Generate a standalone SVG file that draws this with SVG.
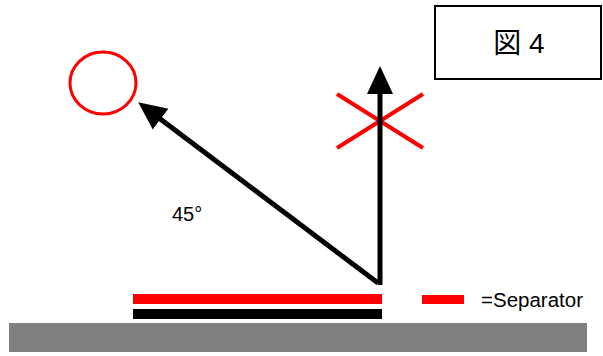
<svg xmlns="http://www.w3.org/2000/svg" width="603" height="356" viewBox="0 0 603 356">
  <style>
    .lbl { font-family: "Liberation Sans", "Noto Sans CJK JP", sans-serif; fill: #000; }
    .arrow { stroke: #000; stroke-width: 5; fill: none; }
    .red { stroke: #f00; stroke-width: 3; fill: none; }
    .cross { stroke: #f00; stroke-width: 4; fill: none; }
  </style>
  <defs>
    <marker id="ah" markerUnits="userSpaceOnUse" markerWidth="28" markerHeight="28" viewBox="0 0 28 26" refX="2" refY="13" orient="auto">
      <path d="M0,0 L28,13 L0,26 Z" fill="#000"/>
    </marker>
  </defs>
  <rect x="0" y="0" width="603" height="356" fill="#fff"/>

  <g id="title">
    <rect x="435" y="6" width="166" height="73" fill="#fff" stroke="#000" stroke-width="2"/>
    <text class="lbl" x="519" y="53" font-size="28" text-anchor="middle">図 4</text>
  </g>

  <g id="ok-circle">
    <ellipse cx="103" cy="83" rx="33" ry="31" class="red"/>
  </g>

  <g id="ng-cross">
    <line x1="337" y1="94" x2="423" y2="148" class="cross"/>
    <line x1="337" y1="148" x2="423" y2="94" class="cross"/>
  </g>

  <g id="angle-label">
    <text class="lbl" x="172" y="221" font-size="20">45°</text>
  </g>

  <g id="connectors">
    <line x1="378" y1="283" x2="159" y2="118" class="arrow" marker-end="url(#ah)"/>
    <line x1="380" y1="285" x2="380" y2="92" class="arrow" marker-end="url(#ah)"/>
  </g>

  <g id="separator">
    <rect x="133" y="294" width="249" height="10" fill="#f00"/>
  </g>
  <g id="layer">
    <rect x="133" y="309" width="249" height="10" fill="#000"/>
  </g>
  <g id="ground">
    <rect x="9" y="323" width="578" height="29" fill="#808080"/>
  </g>

  <g id="legend">
    <rect x="422" y="295" width="42" height="9" fill="#f00"/>
    <text class="lbl" x="481" y="307" font-size="20.5" textLength="102" lengthAdjust="spacingAndGlyphs">=Separator</text>
  </g>
</svg>
